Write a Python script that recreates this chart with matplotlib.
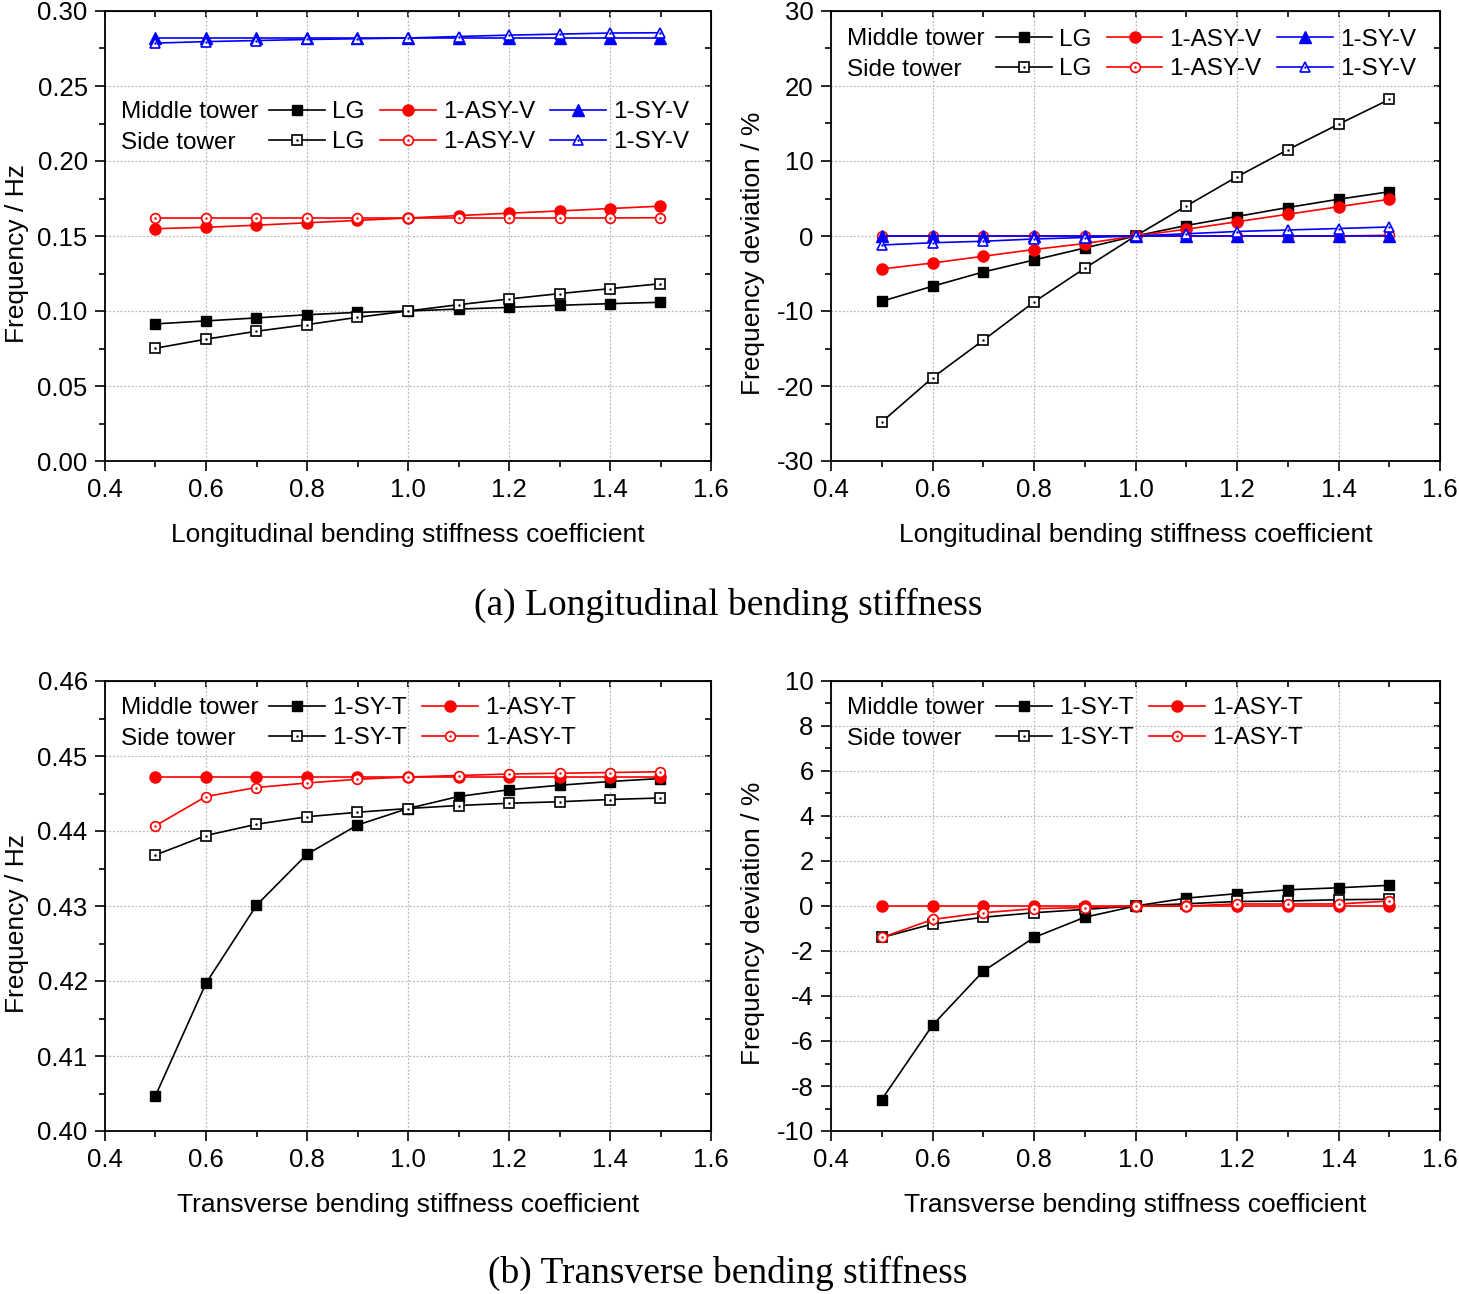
import matplotlib.pyplot as plt
from matplotlib.ticker import MultipleLocator
from matplotlib.legend_handler import HandlerTuple

plt.rcParams['font.family'] = ['Liberation Sans', 'DejaVu Sans']
plt.rcParams['axes.unicode_minus'] = False

x = [0.5, 0.6, 0.7, 0.8, 0.9, 1.0, 1.1, 1.2, 1.3, 1.4, 1.5]

# (a) longitudinal bending stiffness - frequency / Hz
freq_a_mid_lg = [0.0914, 0.0934, 0.0954, 0.0975, 0.0991, 0.1000, 0.1013, 0.1024, 0.1038, 0.1049, 0.1058]
freq_a_side_lg = [0.0752, 0.0812, 0.0865, 0.0909, 0.0958, 0.1000, 0.1042, 0.1080, 0.1116, 0.1149, 0.1182]
freq_a_mid_asy = [0.1549, 0.1558, 0.1572, 0.1588, 0.1604, 0.1620, 0.1636, 0.1652, 0.1667, 0.1683, 0.1699]
freq_a_side_asy = [0.1620, 0.1620, 0.1620, 0.1620, 0.1620, 0.1620, 0.1620, 0.1620, 0.1620, 0.1620, 0.1622]
freq_a_mid_sy = [0.2820, 0.2820, 0.2820, 0.2820, 0.2820, 0.2820, 0.2820, 0.2820, 0.2820, 0.2820, 0.2820]
freq_a_side_sy = [0.2786, 0.2796, 0.2803, 0.2810, 0.2815, 0.2820, 0.2830, 0.2839, 0.2846, 0.2853, 0.2855]

# (a) deviation / %
dev_a_mid_lg = [-8.7, -6.7, -4.8, -3.2, -1.6, 0.0, 1.4, 2.6, 3.8, 4.9, 5.9]
dev_a_side_lg = [-24.8, -18.9, -13.9, -8.8, -4.3, 0.0, 4.0, 7.9, 11.5, 14.9, 18.2]
dev_a_mid_asy = [-4.4, -3.6, -2.7, -1.8, -1.0, 0.0, 0.9, 1.9, 2.9, 3.9, 4.9]
dev_a_side_asy = [0.0, 0.0, 0.0, 0.0, 0.0, 0.0, 0.0, 0.0, 0.0, 0.0, 0.1]
dev_a_mid_sy = [0.0, 0.0, 0.0, 0.0, 0.0, 0.0, 0.0, 0.0, 0.0, 0.0, 0.0]
dev_a_side_sy = [-1.2, -0.9, -0.7, -0.4, -0.2, 0.0, 0.3, 0.6, 0.8, 1.0, 1.2]

# (b) transverse bending stiffness - frequency / Hz
freq_b_mid_sy = [0.4047, 0.4197, 0.4301, 0.4369, 0.4408, 0.4430, 0.4446, 0.4455, 0.4461, 0.4466, 0.4470]
freq_b_side_sy = [0.4368, 0.4394, 0.4409, 0.4419, 0.4425, 0.4430, 0.4434, 0.4437, 0.4439, 0.4442, 0.4444]
freq_b_mid_asy = [0.4472, 0.4472, 0.4472, 0.4472, 0.4472, 0.4472, 0.4472, 0.4472, 0.4472, 0.4472, 0.4472]
freq_b_side_asy = [0.4407, 0.4446, 0.4458, 0.4464, 0.4469, 0.4472, 0.4474, 0.4476, 0.4477, 0.4478, 0.4479]

# (b) deviation / %
dev_b_mid_sy = [-8.6, -5.3, -2.9, -1.4, -0.5, 0.0, 0.35, 0.55, 0.72, 0.81, 0.92]
dev_b_side_sy = [-1.4, -0.8, -0.5, -0.3, -0.15, 0.0, 0.1, 0.2, 0.22, 0.28, 0.3]
dev_b_mid_asy = [0.0, 0.0, 0.0, 0.0, 0.0, 0.0, 0.0, 0.0, 0.0, 0.0, 0.0]
dev_b_side_asy = [-1.4, -0.6, -0.3, -0.12, -0.07, 0.0, 0.0, 0.09, 0.09, 0.09, 0.22]

TFS = 18.5   # tick labels
AFS = 19     # axis labels
LFS = 17.5   # legend
W, H = 1459, 1294
fig = plt.figure(figsize=(W / 100, H / 100), dpi=100)


def make_axes(l, t, r, b):
    return fig.add_axes([l / W, 1 - b / H, (r - l) / W, (b - t) / H])


def style_axes(ax, ylim, ymaj, ymin, yfmt, xlabel, ylabel, ylab_x):
    ax.set_xlim(0.4, 1.6)
    ax.set_ylim(*ylim)
    ax.xaxis.set_major_locator(MultipleLocator(0.2))
    ax.xaxis.set_minor_locator(MultipleLocator(0.1))
    ax.yaxis.set_major_locator(MultipleLocator(ymaj))
    ax.yaxis.set_minor_locator(MultipleLocator(ymin))
    ax.yaxis.set_major_formatter(yfmt)
    ax.xaxis.set_major_formatter('{x:.1f}')
    ax.tick_params(which='major', direction='out', length=7, width=1.2, labelsize=TFS)
    ax.tick_params(axis='x', which='major', pad=5)
    ax.tick_params(axis='y', which='major', pad=5.5)
    ax.tick_params(which='minor', direction='out', length=4, width=1.2)
    for s in ax.spines.values():
        s.set_linewidth(1.3)
    ax.grid(True, which='major', color='#b8b8b8', linestyle=(0, (1.5, 1.5)), linewidth=0.9)
    ax.set_axisbelow(True)
    # inward ticks on top and right
    top = ax.secondary_xaxis('top')
    top.xaxis.set_major_locator(MultipleLocator(0.2))
    top.xaxis.set_minor_locator(MultipleLocator(0.1))
    top.tick_params(which='both', direction='in', length=4, width=1.2, labeltop=False)
    right = ax.secondary_yaxis('right')
    right.yaxis.set_major_locator(MultipleLocator(ymaj))
    right.yaxis.set_minor_locator(MultipleLocator(ymin))
    right.tick_params(which='both', direction='in', length=4, width=1.2, labelright=False)
    ax.set_xlabel(xlabel, fontsize=AFS)
    ax.set_ylabel(ylabel, fontsize=AFS)
    ax.xaxis.set_label_coords(0.5, -0.138)
    ax.yaxis.set_label_coords(ylab_x, 0.462)


def series(ax, y, color, marker, filled, ms):
    if filled:
        ln, = ax.plot(x, y, color=color, lw=1.2, marker=marker, ms=ms,
                      mfc=color, mec=color)
        return ln
    ln, = ax.plot(x, y, color=color, lw=1.2, marker=marker, ms=ms,
                  mfc='white', mec=color, mew=1.2)
    dot, = ax.plot(x, y, ls='none', marker='.', ms=1.5, color=color)
    return (ln, dot)


def add_legend(ax, handles, labels, y1, y2):
    ax.text(0.026, y1, 'Middle tower', transform=ax.transAxes, fontsize=LFS, va='center')
    ax.text(0.026, y2, 'Side tower', transform=ax.transAxes, fontsize=LFS, va='center')
    ax.legend(handles, labels, ncol=len(handles) // 2, loc='center left',
              bbox_to_anchor=(0.271, (y1 + y2) / 2), frameon=False, fontsize=LFS,
              handlelength=2.3, handletextpad=0.29, columnspacing=0.62,
              labelspacing=0.32, borderpad=0, borderaxespad=0,
              handler_map={tuple: HandlerTuple(ndivide=1)})


xl_a = 'Longitudinal bending stiffness coefficient'
xl_b = 'Transverse bending stiffness coefficient'
yl_f = 'Frequency / Hz'
yl_d = 'Frequency deviation / %'
BLUE = '#0000ff'
RED = '#ff0000'

# top-left
ax = make_axes(105, 11, 711, 461)
style_axes(ax, (0, 0.30), 0.05, 0.025, '{x:.2f}', xl_a, yl_f, -0.126)
h1 = series(ax, freq_a_mid_lg, 'black', 's', True, 7.5)
h2 = series(ax, freq_a_side_lg, 'black', 's', False, 6.5)
h3 = series(ax, freq_a_mid_asy, RED, 'o', True, 8)
h4 = series(ax, freq_a_side_asy, RED, 'o', False, 7)
h5 = series(ax, freq_a_mid_sy, BLUE, '^', True, 8)
h6 = series(ax, freq_a_side_sy, BLUE, '^', False, 7.5)
add_legend(ax, [h1, h2, h3, h4, h5, h6],
           ['LG', 'LG', '1-ASY-V', '1-ASY-V', '1-SY-V', '1-SY-V'], 0.776, 0.707)

# top-right
ax = make_axes(831, 11, 1440, 461)
style_axes(ax, (-30, 30), 10, 5, '{x:.0f}', xl_a, yl_d, -0.108)
h1 = series(ax, dev_a_mid_lg, 'black', 's', True, 7.5)
h2 = series(ax, dev_a_side_lg, 'black', 's', False, 6.5)
h3 = series(ax, dev_a_mid_asy, RED, 'o', True, 8)
h4 = series(ax, dev_a_side_asy, RED, 'o', False, 7)
h5 = series(ax, dev_a_mid_sy, BLUE, '^', True, 8)
h6 = series(ax, dev_a_side_sy, BLUE, '^', False, 7.5)
add_legend(ax, [h1, h2, h3, h4, h5, h6],
           ['LG', 'LG', '1-ASY-V', '1-ASY-V', '1-SY-V', '1-SY-V'], 0.938, 0.869)

# bottom-left
ax = make_axes(105, 681, 711, 1131)
style_axes(ax, (0.40, 0.46), 0.01, 0.005, '{x:.2f}', xl_b, yl_f, -0.126)
h1 = series(ax, freq_b_mid_sy, 'black', 's', True, 7.5)
h2 = series(ax, freq_b_side_sy, 'black', 's', False, 6.5)
h3 = series(ax, freq_b_mid_asy, RED, 'o', True, 8)
h4 = series(ax, freq_b_side_asy, RED, 'o', False, 7)
add_legend(ax, [h1, h2, h3, h4], ['1-SY-T', '1-SY-T', '1-ASY-T', '1-ASY-T'], 0.940, 0.872)

# bottom-right
ax = make_axes(831, 681, 1440, 1131)
style_axes(ax, (-10, 10), 2, 1, '{x:.0f}', xl_b, yl_d, -0.108)
h1 = series(ax, dev_b_mid_sy, 'black', 's', True, 7.5)
h2 = series(ax, dev_b_side_sy, 'black', 's', False, 6.5)
h3 = series(ax, dev_b_mid_asy, RED, 'o', True, 8)
h4 = series(ax, dev_b_side_asy, RED, 'o', False, 7)
add_legend(ax, [h1, h2, h3, h4], ['1-SY-T', '1-SY-T', '1-ASY-T', '1-ASY-T'], 0.940, 0.872)

fig.text(728 / W, 1 - 605 / H, '(a) Longitudinal bending stiffness', ha='center', va='center',
         fontsize=27, family=['Liberation Serif', 'DejaVu Serif'])
fig.text(728 / W, 1 - 1273 / H, '(b) Transverse bending stiffness', ha='center', va='center',
         fontsize=27, family=['Liberation Serif', 'DejaVu Serif'])

fig.savefig('out.png', dpi=100, facecolor='white')
